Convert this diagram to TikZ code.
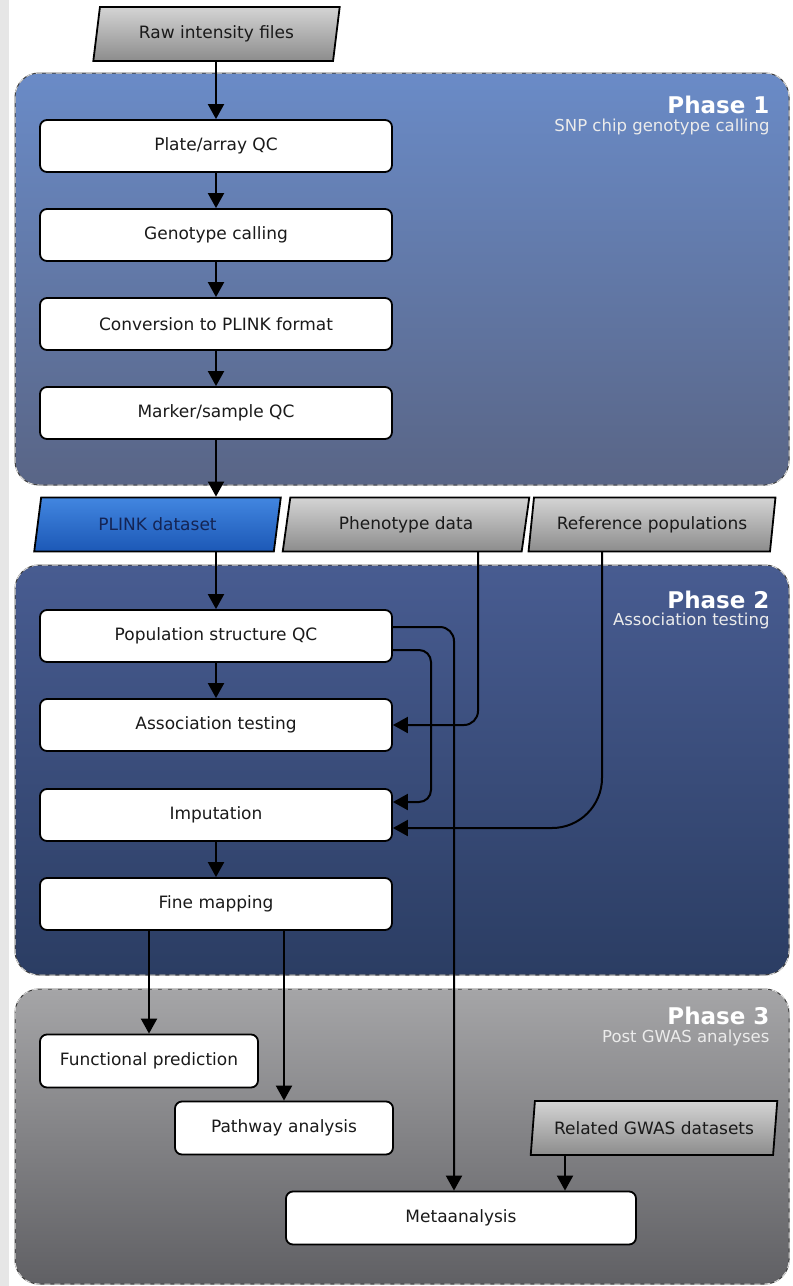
\documentclass[tikz,border=0pt]{standalone}
\usepackage{fontspec}
\setmainfont{DejaVu Sans}
\usepackage{tikz}
\usetikzlibrary{arrows.meta}
\usetikzlibrary{shapes.geometric}
\definecolor{stripgray}{RGB}{230,230,230}
\definecolor{ph1top}{RGB}{106,139,199}
\definecolor{ph1bot}{RGB}{89,101,134}
\definecolor{ph2top}{RGB}{72,92,145}
\definecolor{ph2bot}{RGB}{43,61,99}
\definecolor{ph3top}{RGB}{165,165,167}
\definecolor{ph3bot}{RGB}{96,96,100}
\definecolor{datatop}{RGB}{212,212,212}
\definecolor{databot}{RGB}{140,140,140}
\definecolor{plinktop}{RGB}{66,134,224}
\definecolor{plinkbot}{RGB}{28,88,182}
\definecolor{plinktext}{RGB}{20,36,84}
\definecolor{textdark}{RGB}{26,26,26}
\newcommand{\drawflow}{\draw[-{Triangle[length=15pt,width=16pt]}, line width=2pt]}

\tikzset{
    process/.style={draw=black, line width=1.8pt, fill=white, rounded corners=7pt,
        minimum width=352pt, minimum height=52pt, inner sep=0pt,
        text=textdark, font=\fontsize{17}{20}\selectfont},
    dataset/.style={trapezium, trapezium left angle=75, trapezium right angle=105,
        trapezium stretches=true, draw=black, line width=1.8pt,
        minimum width=247pt, minimum height=54pt, inner sep=0pt,
        top color=datatop, bottom color=databot,
        text=textdark, font=\fontsize{17}{20}\selectfont},
    phasetitle/.style={anchor=east, text=white, font=\bfseries\fontsize{23}{26}\selectfont},
    phasesub/.style={anchor=east, text=white!92!black, font=\fontsize{16.5}{19}\selectfont}
}

\begin{document}
\begin{tikzpicture}[x=1pt, y=-1pt]
    \useasboundingbox (0,0) rectangle (793,1286);
    \fill[white] (0,0) rectangle (793,1286);
    \fill[stripgray] (0,0) rectangle (9,1286);

    % Draw phase panels
    \foreach \ya/\yb/\ctop/\cbot in {73/485/ph1top/ph1bot, 565/975/ph2top/ph2bot, 989/1284/ph3top/ph3bot} {
        \draw[rounded corners=24pt, draw=black!75, line width=1pt, top color=\ctop, bottom color=\cbot]
            (15,\ya) rectangle (789,\yb);
        \draw[rounded corners=24pt, white!85!black, line width=1pt, dash pattern=on 6pt off 4pt]
            (15,\ya) rectangle (789,\yb);
    }

    \node[phasetitle] (ph1) at (773,105) {Phase 1};
    \node[phasesub] (ph1sub) at (773,127) {SNP chip genotype calling};
    \node[phasetitle] (ph2) at (773,600) {Phase 2};
    \node[phasesub] (ph2sub) at (773,621) {Association testing};
    \node[phasetitle] (ph3) at (773,1016) {Phase 3};
    \node[phasesub] (ph3sub) at (773,1038) {Post GWAS analyses};

    % Draw data inputs
    \node[dataset] (raw) at (216.5,34) {Raw intensity files};
    \node[dataset, top color=plinktop, bottom color=plinkbot, text=plinktext] (plink) at (157.5,524.5) {PLINK dataset};
    \node[dataset] (pheno) at (406,524.5) {Phenotype data};
    \node[dataset] (ref) at (652,524.5) {Reference populations};
    \node[dataset] (related) at (654,1128) {Related GWAS datasets};

    % Draw process steps
    \node[process] (plate) at (216,146) {Plate/array QC};
    \node[process] (geno) at (216,235) {Genotype calling};
    \node[process] (conv) at (216,324) {Conversion to PLINK format};
    \node[process] (marker) at (216,413) {Marker/sample QC};

    \node[process] (popqc) at (216,636) {Population structure QC};
    \node[process] (assoc) at (216,725) {Association testing};
    \node[process] (imput) at (216,815) {Imputation};
    \node[process] (fine) at (216,904) {Fine mapping};

    \node[process, minimum width=218pt, minimum height=53pt] (func) at (149,1061) {Functional prediction};
    \node[process, minimum width=218pt, minimum height=53pt] (pathway) at (284,1128) {Pathway analysis};
    \node[process, minimum width=350pt, minimum height=53pt] (meta) at (461,1218) {Metaanalysis};

    % Draw flow
    \drawflow (raw.south -| plate.north) -- (plate.north);
    \drawflow (plate) -- (geno);
    \drawflow (geno) -- (conv);
    \drawflow (conv) -- (marker);
    \drawflow (marker.south) -- (marker.south |- plink.north);
    \drawflow (plink.south -| popqc.north) -- (popqc.north);
    \drawflow (popqc) -- (assoc);
    \drawflow (imput) -- (fine);
    \drawflow (fine.south -| func.north) -- (func.north);
    \drawflow (fine.south -| pathway.north) -- (pathway.north);

    % Draw side inputs
    \coordinate (phenoout) at (478,551);
    \coordinate (refout) at (602,551);
    \coordinate (relout) at (565,1155);
    \drawflow[rounded corners=14pt] (phenoout) |- (assoc.east);
    \drawflow[rounded corners=50pt] (refout) |- ([yshift=-13pt]imput.east);
    \drawflow[rounded corners=12pt] ([yshift=-14pt]popqc.east) -| (431,760) |- ([yshift=13pt]imput.east);
    \drawflow[rounded corners=14pt] ([yshift=9pt]popqc.east) -| (meta.north -| 454,0);
    \drawflow (relout) -- (relout |- meta.north);
\end{tikzpicture}
\end{document}
